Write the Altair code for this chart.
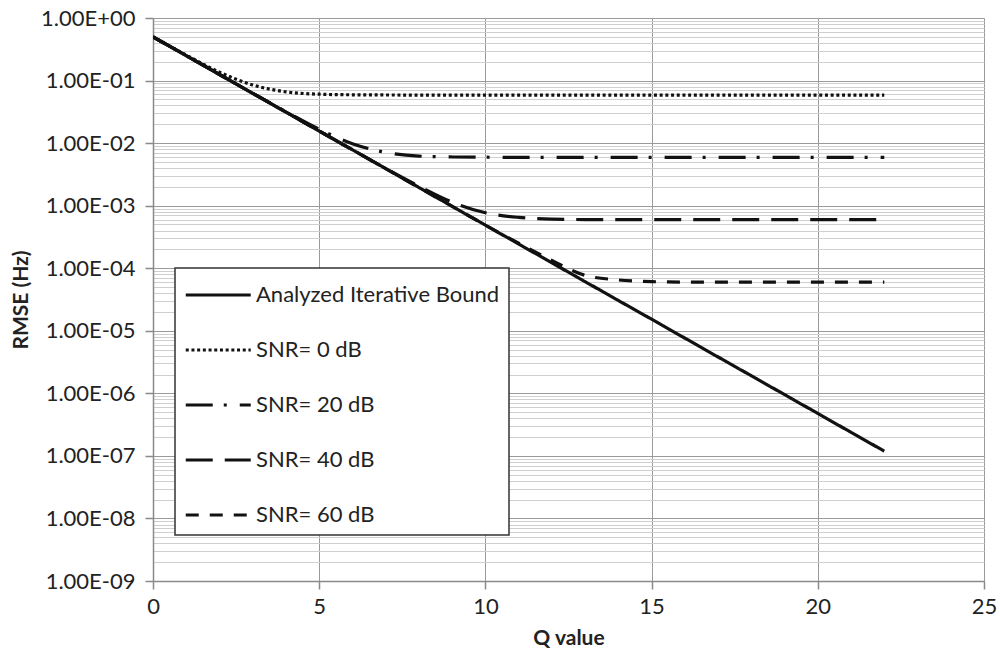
import altair as alt
import pandas as pd

# ---- data ----
Q_VALUES = [0, 1, 2, 3, 4, 5, 6, 7, 8, 9, 10, 11, 12, 13, 14, 15, 16, 17, 18, 19, 20, 21, 22]

BOUND = [5.0e-1, 2.5e-1, 1.25e-1, 6.25e-2, 3.13e-2, 1.56e-2, 7.81e-3, 3.91e-3,
         1.95e-3, 9.77e-4, 4.88e-4, 2.44e-4, 1.22e-4, 6.10e-5, 3.05e-5, 1.53e-5,
         7.63e-6, 3.81e-6, 1.91e-6, 9.54e-7, 4.77e-7, 2.38e-7, 1.19e-7]

SNR_0 = [5.0e-1, 2.55e-1, 1.36e-1, 8.5e-2, 6.6e-2, 6.05e-2, 5.92e-2, 5.88e-2,
         5.86e-2, 5.85e-2, 5.85e-2, 5.85e-2, 5.85e-2, 5.85e-2, 5.85e-2, 5.85e-2,
         5.85e-2, 5.85e-2, 5.85e-2, 5.85e-2, 5.85e-2, 5.85e-2, 5.85e-2]

SNR_20 = [5.0e-1, 2.5e-1, 1.25e-1, 6.25e-2, 3.18e-2, 1.67e-2, 9.8e-3, 7.1e-3,
          6.2e-3, 6.0e-3, 5.95e-3, 5.93e-3, 5.93e-3, 5.93e-3, 5.93e-3, 5.93e-3,
          5.93e-3, 5.93e-3, 5.93e-3, 5.93e-3, 5.93e-3, 5.93e-3, 5.93e-3]

SNR_40 = [5.0e-1, 2.5e-1, 1.25e-1, 6.25e-2, 3.13e-2, 1.56e-2, 7.83e-3, 3.95e-3,
          2.05e-3, 1.14e-3, 7.7e-4, 6.5e-4, 6.1e-4, 6.0e-4, 6.0e-4, 6.0e-4,
          6.0e-4, 6.0e-4, 6.0e-4, 6.0e-4, 6.0e-4, 6.0e-4, 6.0e-4]

SNR_60 = [5.0e-1, 2.5e-1, 1.25e-1, 6.25e-2, 3.13e-2, 1.56e-2, 7.81e-3, 3.91e-3,
          1.95e-3, 9.77e-4, 4.88e-4, 2.52e-4, 1.33e-4, 7.7e-5, 6.5e-5, 6.1e-5,
          6.0e-5, 6.0e-5, 6.0e-5, 6.0e-5, 6.0e-5, 6.0e-5, 6.0e-5]

SERIES_NAMES = ["Analyzed Iterative Bound", "SNR= 0 dB", "SNR= 20 dB", "SNR= 40 dB", "SNR= 60 dB"]
SERIES_VALUES = [BOUND, SNR_0, SNR_20, SNR_40, SNR_60]
DASHES = [[1, 0], [3, 2.7], [27, 11, 3, 13], [27, 12], [13, 11]]

X_TICKS = [0, 5, 10, 15, 20, 25]
DECADE_EXPONENTS = [-9, -8, -7, -6, -5, -4, -3, -2, -1]
MANTISSAS = [1, 2, 3, 4, 5, 6, 7, 8, 9]

Y_TICKS = [m * 10.0 ** e for e in DECADE_EXPONENTS for m in MANTISSAS] + [1.0]

rows = []
for name, vals in zip(SERIES_NAMES, SERIES_VALUES):
    for q, v in zip(Q_VALUES, vals):
        rows.append({"series": name, "Q": q, "RMSE": v})
df = pd.DataFrame(rows)

FONT = "Lato"
IS_DECADE = "abs(log(datum.value)/LN10 - round(log(datum.value)/LN10)) < 0.001"
EXP = "round(log(datum.value)/LN10)"
LABEL_EXPR = (
    f"{IS_DECADE} ? ('1.00E' + ({EXP} >= 0 ? '+' : '-') + (abs({EXP}) < 10 ? '0' : '') + abs({EXP})) : ''"
)

chart = (
    alt.Chart(df)
    .mark_line(strokeWidth=3.2, color="#111111", interpolate="monotone", clip=True)
    .encode(
        x=alt.X(
            "Q:Q",
            scale=alt.Scale(domain=[0, 25], nice=False, zero=False),
            axis=alt.Axis(
                values=X_TICKS,
                title="Q value",
                grid=True,
                gridColor="#9a9a9a",
                gridWidth=1,
                domainColor="#8a8a8a",
                domainWidth=1.5,
                tickColor="#8a8a8a",
                tickSize=8,
                tickWidth=1.5,
                labelFont=FONT,
                labelFontSize=22,
                labelColor="#222222",
                labelPadding=7,
                titleFont=FONT,
                titleFontSize=21,
                titleFontWeight="bold",
                titleColor="#222222",
                titlePadding=10,
                labelFlush=False,
            ),
        ),
        y=alt.Y(
            "RMSE:Q",
            scale=alt.Scale(type="log", domain=[1e-9, 1], nice=False),
            axis=alt.Axis(
                values=Y_TICKS,
                labelExpr=LABEL_EXPR,
                title="RMSE (Hz)",
                grid=True,
                gridColor={"condition": {"test": IS_DECADE, "value": "#9a9a9a"}, "value": "#cfcfcf"},
                gridWidth=1,
                domainColor="#8a8a8a",
                domainWidth=1.5,
                tickColor="#8a8a8a",
                tickOpacity={"condition": {"test": IS_DECADE, "value": 1}, "value": 0},
                tickSize=8,
                tickWidth=1.5,
                labelFont=FONT,
                labelFontSize=22,
                labelColor="#222222",
                labelPadding=10,
                labelFlush=False,
                labelOverlap=False,
                titleFont=FONT,
                titleFontSize=21,
                titleFontWeight="bold",
                titleColor="#222222",
                titlePadding=9,
            ),
        ),
        strokeDash=alt.StrokeDash(
            "series:N",
            scale=alt.Scale(domain=SERIES_NAMES, range=DASHES),
            legend=alt.Legend(
                title=None,
                orient="none",
                legendX=22,
                legendY=250,
                direction="vertical",
                fillColor="white",
                strokeColor="#333333",
                padding=9,
                symbolType="M-1,0H3",
                symbolSize=1056,
                symbolStrokeWidth=3,
                symbolStrokeColor="#111111",
                symbolFillColor="transparent",
                labelFont=FONT,
                labelFontSize=22,
                labelColor="#222222",
                labelOffset=36,
                labelLimit=400,
                rowPadding=26,
            ),
        ),
        order=alt.Order("Q:Q"),
    )
    .properties(
        width=831,
        height=563,
        padding={"left": 153, "top": 18, "right": 16, "bottom": 76},
        autosize=alt.AutoSizeParams(type="none"),
        background="white",
    )
    .configure_view(stroke=None)
    .configure_legend(strokeWidth=1.5)
)

chart.save("out.html", embed_options={"renderer": "svg", "actions": False})
